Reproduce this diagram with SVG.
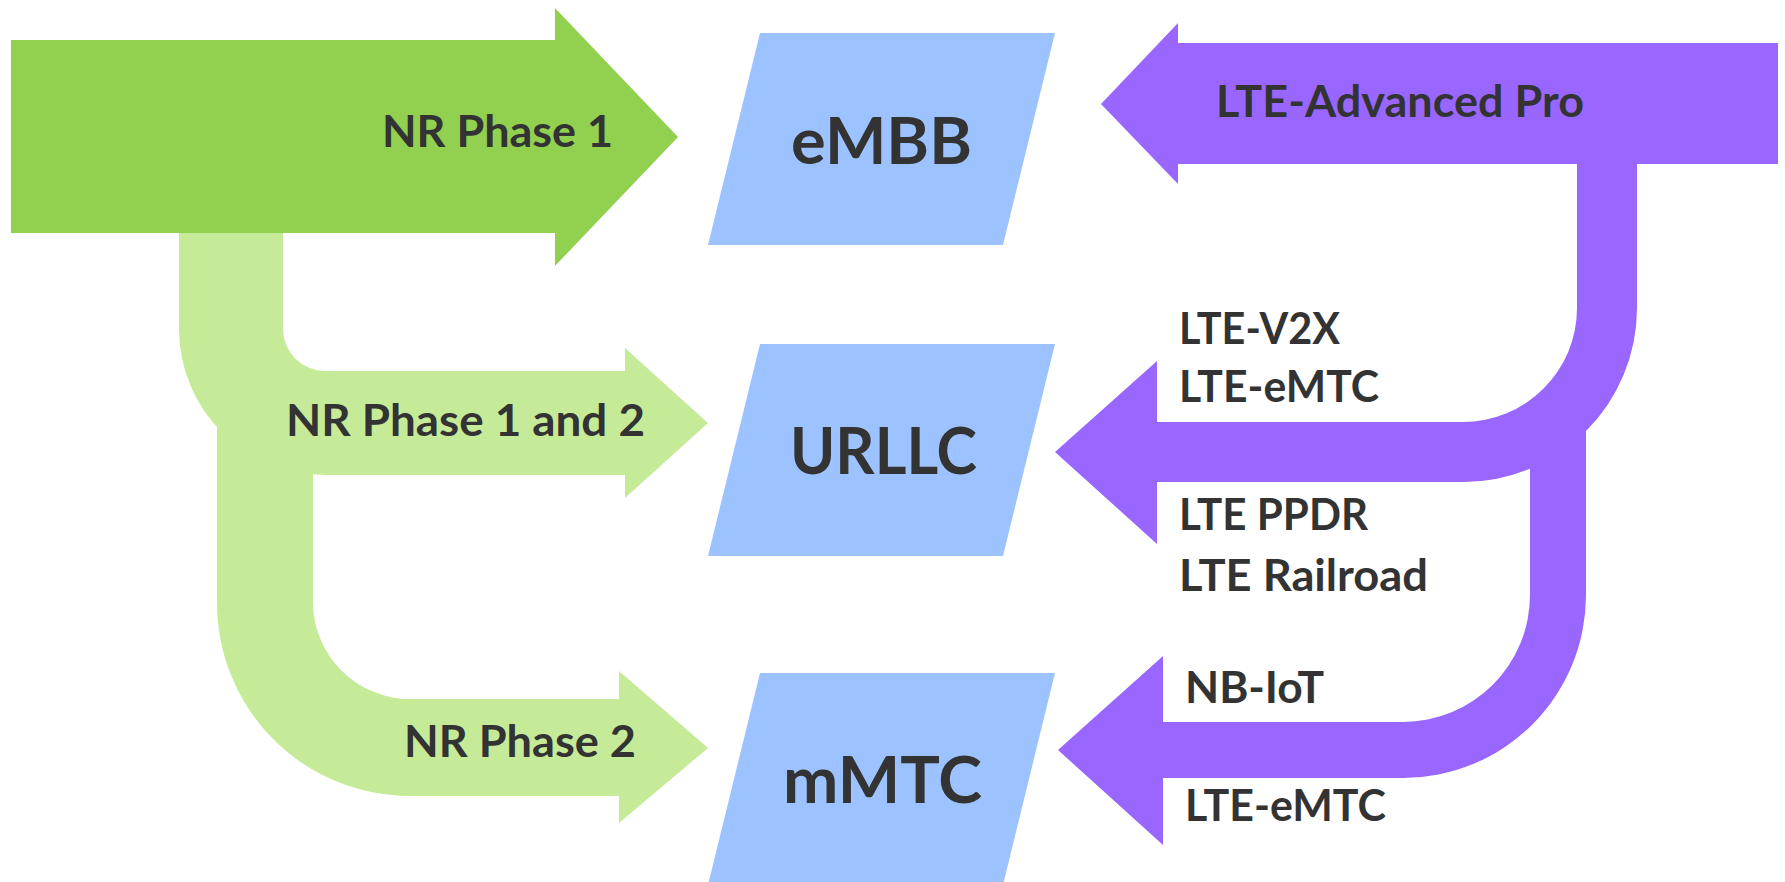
<svg xmlns="http://www.w3.org/2000/svg" width="1785" height="882" viewBox="0 0 1785 882">
<style>
.g1{fill:#92D050}
.g2{fill:#C6EB98}
.pu{fill:#9966FF}
.bl{fill:#9CC3FF}
.t{font-family:Lato,"Open Sans","Liberation Sans",sans-serif;font-weight:700;fill:#333333;font-size:44.5px}
.tb{font-family:Lato,"Open Sans","Liberation Sans",sans-serif;font-weight:700;fill:#333333;font-size:65px}
</style>
<rect width="1785" height="882" fill="#FFFFFF"/>
<g id="connectors">
  <g id="nr-phase-2">
    <path class="g2" d="M217,400 L313,400 L313,602 A97,97 0 0 0 410,699 L619,699 L619,671 L708,748 L619,823 L619,796 L410,796 A193,193 0 0 1 217,603 Z"/>
    <text class="t" x="404" y="757" textLength="232" lengthAdjust="spacingAndGlyphs">NR Phase 2</text>
  </g>
  <g id="nr-phase-1-and-2">
    <path class="g2" d="M179,220 L283,220 L283,329 A42,42 0 0 0 325,371 L625,371 L625,348 L708,423 L625,498 L625,475 L325,475 A146,146 0 0 1 179,329 Z"/>
    <text class="t" x="286" y="436" textLength="359" lengthAdjust="spacingAndGlyphs">NR Phase 1 and 2</text>
  </g>
  <g id="nr-phase-1">
    <polygon class="g1" points="11,40 555,40 555,8 678,137 555,266 555,233 11,233"/>
    <text class="t" x="382" y="147" textLength="231" lengthAdjust="spacingAndGlyphs">NR Phase 1</text>
  </g>
  <g id="lte-advanced-pro">
    <polygon class="pu" points="1778,43 1178,43 1178,23 1101,104 1178,184 1178,164 1778,164"/>
    <text class="t" x="1216" y="117" textLength="368" lengthAdjust="spacingAndGlyphs">LTE-Advanced Pro</text>
  </g>
  <g id="lte-to-urllc">
    <path class="pu" d="M1577,150 L1637,150 L1637,308 A174,174 0 0 1 1463,482 L1157,482 L1157,544 L1055,452 L1157,361 L1157,422 L1463,422 A114,114 0 0 0 1577,308 Z"/>
    <text class="t" x="1179" y="344" textLength="161" lengthAdjust="spacingAndGlyphs">LTE-V2X</text>
    <text class="t" x="1179" y="402" textLength="200" lengthAdjust="spacingAndGlyphs">LTE-eMTC</text>
    <text class="t" x="1179" y="530" textLength="189" lengthAdjust="spacingAndGlyphs">LTE PPDR</text>
    <text class="t" x="1179" y="591" textLength="249" lengthAdjust="spacingAndGlyphs">LTE Railroad</text>
  </g>
  <g id="lte-to-mmtc">
    <path class="pu" d="M1530,420 L1586,420 L1586,595 A183,183 0 0 1 1403,778 L1163,778 L1163,845 L1058,750 L1163,656 L1163,722 L1403,722 A127,127 0 0 0 1530,595 Z"/>
    <text class="t" x="1185" y="703" textLength="139" lengthAdjust="spacingAndGlyphs">NB-IoT</text>
    <text class="t" x="1185" y="821" textLength="201" lengthAdjust="spacingAndGlyphs">LTE-eMTC</text>
  </g>
</g>
<g id="embb">
  <polygon class="bl" points="760,33 1055,33 1003,245 708,245"/>
  <text class="tb" x="791" y="164" textLength="181" lengthAdjust="spacingAndGlyphs">eMBB</text>
</g>
<g id="urllc">
  <polygon class="bl" points="760,344 1055,344 1003,556 708,556"/>
  <text class="tb" x="790" y="474" textLength="187" lengthAdjust="spacingAndGlyphs">URLLC</text>
</g>
<g id="mmtc">
  <polygon class="bl" points="760,673 1055,673 1003,885 708,885"/>
  <text class="tb" x="783" y="803" textLength="199" lengthAdjust="spacingAndGlyphs">mMTC</text>
</g>
</svg>
